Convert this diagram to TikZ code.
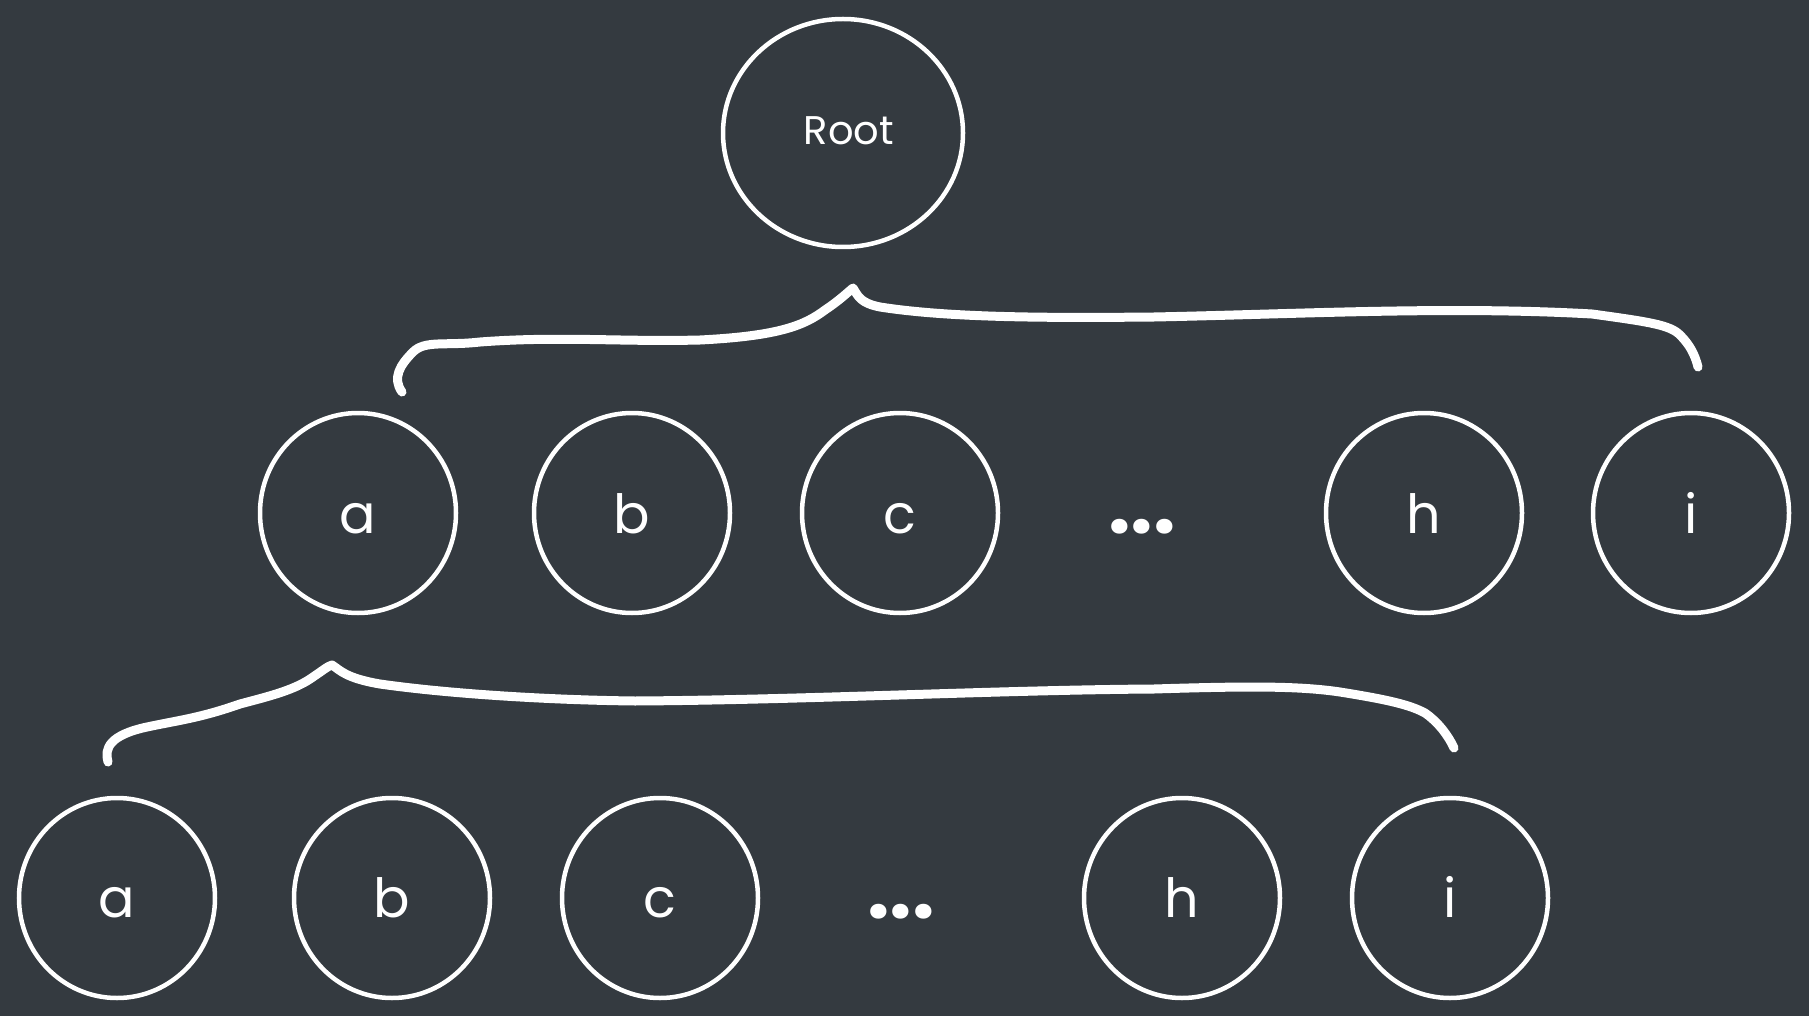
\documentclass[tikz,border=0pt]{standalone}
\usepackage{fontspec}
\setmainfont{Poppins}
\usetikzlibrary{shapes.geometric,calc}
\definecolor{bg}{HTML}{343A40}
\tikzset{
  circnode/.style={draw=white, line width=4.5pt, ellipse, minimum width=196pt, minimum height=200pt, inner sep=0pt},
  rootnode/.style={draw=white, line width=4.5pt, ellipse, minimum width=240pt, minimum height=228pt, inner sep=0pt},
  lettertxt/.style={text=white, font=\fontsize{54}{58}\selectfont, anchor=base, inner sep=0pt},
  roottxt/.style={text=white, font=\fontsize{40}{44}\selectfont, anchor=base, inner sep=0pt},
  dotstxt/.style={text=white, font=\bfseries\fontsize{80}{80}\selectfont, anchor=base, inner sep=0pt},
  bracestroke/.style={draw=white, line width=9pt, line cap=round, line join=round}
}
\begin{document}
\begin{tikzpicture}[x=1pt,y=-1pt]
\fill[bg] (0,0) rectangle (1809,1016);
\useasboundingbox (0,0) rectangle (1809,1016);
% root
\node[rootnode] (root) at (843,133) {};
\node[roottxt] (roott) at (849,145) {Root};
% level 1
\foreach \n/\x/\t in {a/358/a, b/632/b, c/900/c, h/1424/h, i/1691/i}{
  \node[circnode] (L1\n) at (\x,513) {};
  \node[lettertxt] (L1\n t) at (\x,533) {\t};
}
\node[dotstxt] (L1dots) at (1142,533) {...};
% level 2
\foreach \n/\x/\t in {a/117/a, b/392/b, c/660/c, h/1182/h, i/1450/i}{
  \node[circnode] (L2\n) at (\x,898) {};
  \node[lettertxt] (L2\n t) at (\x,917) {\t};
}
\node[dotstxt] (L2dots) at (901,918) {...};
% brace 1
\coordinate (b1s) at (402,392);
\coordinate (b1p) at (853,288);
\coordinate (b1e) at (1698,367);
\draw[bracestroke] (b1s) .. controls (392,378) and (400,365) .. (413,352)
  .. controls (425,340) and (445,346) .. (480,342)
  .. controls (560,336) and (620,342) .. (700,340)
  .. controls (780,336) and (805,325) .. (825,310)
  .. controls (840,300) and (848,292) .. (b1p)
  .. controls (858,296) and (860,303) .. (880,307)
  .. controls (950,318) and (1050,318) .. (1154,317)
  .. controls (1300,314) and (1450,306) .. (1592,314)
  .. controls (1650,322) and (1670,325) .. (1680,335)
  .. controls (1690,345) and (1695,355) .. (b1e);
% brace 2
\coordinate (b2s) at (108,762);
\coordinate (b2p) at (332,665);
\coordinate (b2e) at (1454,748);
\draw[bracestroke] (b2s) .. controls (104,748) and (110,735) .. (147,727)
  .. controls (180,720) and (200,718) .. (240,704)
  .. controls (270,696) and (295,690) .. (313,677)
  .. controls (322,671) and (328,666) .. (b2p)
  .. controls (340,670) and (345,678) .. (380,684)
  .. controls (450,694) and (550,700) .. (635,701)
  .. controls (800,700) and (1000,690) .. (1154,689)
  .. controls (1250,686) and (1300,686) .. (1340,692)
  .. controls (1390,700) and (1410,705) .. (1425,713)
  .. controls (1438,722) and (1448,735) .. (b2e);
\end{tikzpicture}
\end{document}
